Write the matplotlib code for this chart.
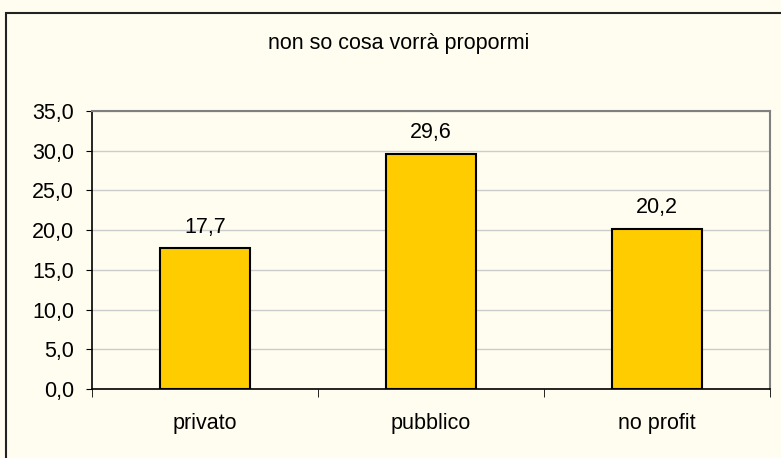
import matplotlib.pyplot as plt
from matplotlib.patches import Rectangle
from matplotlib.ticker import FixedLocator

categories = ["privato", "pubblico", "no profit"]
values = [17.7, 29.6, 20.2]
title = "non so cosa vorrà propormi"

plt.rcParams['font.family'] = ['Liberation Sans', 'DejaVu Sans']

bg = "#fffdf0"
fs = 15.5
fig = plt.figure(figsize=(7.81, 4.58), dpi=100, facecolor=bg)
# outer chart border (clipped on right/bottom like the original)
fig.patches.append(Rectangle((6 / 781, -0.05), 1.0, 1 - 13 / 458 + 0.05,
                             transform=fig.transFigure, fill=False,
                             edgecolor="#222222", linewidth=1.5))

ax = fig.add_axes([92 / 781, 1 - 389 / 458, (770 - 92) / 781, (389 - 111) / 458])
ax.set_facecolor(bg)

x = list(range(len(categories)))
ax.bar(x, values, width=0.4, color="#ffcc00", edgecolor="black", linewidth=1.5, zorder=3)
for xi, v in zip(x, values):
    ax.text(xi, v + 2.0, f"{v:.1f}".replace(".", ","), ha="center", va="baseline", fontsize=fs)

ax.set_xlim(-0.5, len(categories) - 0.5)
ax.set_ylim(0, 35)
ax.set_yticks([i * 5 for i in range(8)])
ax.set_yticklabels([f"{i * 5:.1f}".replace(".", ",") for i in range(8)], fontsize=fs)
ax.yaxis.grid(True, color="#cccccc", linewidth=1, zorder=0)

ax.set_xticks(x)
ax.set_xticklabels(categories, fontsize=fs)
ax.tick_params(axis="x", length=0, pad=17)
ax.xaxis.set_minor_locator(FixedLocator([i - 0.5 for i in range(len(categories) + 1)]))
ax.tick_params(axis="x", which="minor", length=6, direction="out", color="black")
ax.tick_params(axis="y", length=4, direction="out", color="black", pad=9)

for side in ["top", "right"]:
    ax.spines[side].set_color("#808080")
    ax.spines[side].set_linewidth(1.5)
for side in ["left", "bottom"]:
    ax.spines[side].set_color("black")
    ax.spines[side].set_linewidth(1.2)

fig.text(399 / 781, 1 - 43 / 458, title, ha="center", va="center", fontsize=fs)

fig.savefig("out.png", dpi=100, facecolor=bg)
